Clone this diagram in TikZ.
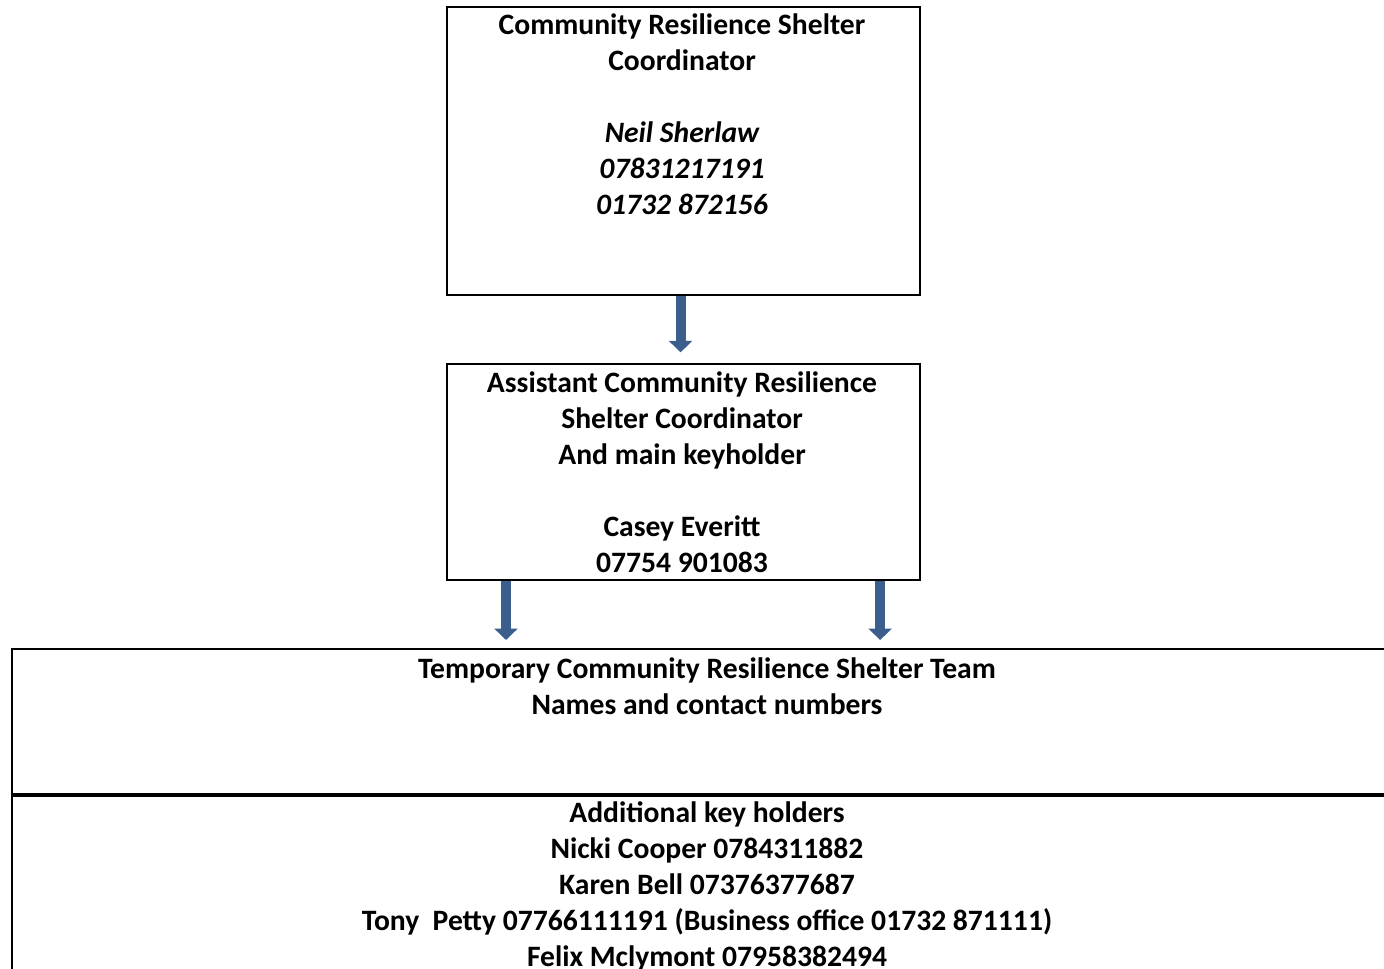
\documentclass[tikz,border=0pt]{standalone}
\usepackage{fontspec}
\setmainfont{Carlito}
\usetikzlibrary{arrows.meta,positioning}
\definecolor{arrowblue}{RGB}{59,94,140}
\tikzset{ % Common styles
	orgbox/.style={draw=black, line width=1.6pt, rectangle, inner sep=0pt},
	boxtext/.style={align=center, inner sep=0pt, font=\fontsize{22.2}{27}\selectfont\bfseries},
	flow/.style={draw=arrowblue, line width=7.5pt, -{Triangle[width=17pt,length=8.5pt]}}
}
\begin{document}
\begin{tikzpicture}[x=0.75pt, y=-0.75pt]
			\useasboundingbox (0,0) rectangle (1384,969);
			\clip (0,0) rectangle (1384,969);
			% Boxes
			\node [orgbox, minimum width=354.75pt, minimum height=216pt, anchor=north west] (coord) at (446,6) {};
			\node [orgbox, minimum width=354.75pt, minimum height=162pt, anchor=north west] (assist) at (446,363) {};
			\node [orgbox, minimum width=1043pt, minimum height=108.75pt, anchor=north west] (team) at (11,648) {};
			\node [orgbox, minimum width=1043pt, minimum height=142pt, anchor=north west] (keys) at (team.south west) {};
			% Texts (base = baseline of the last line)
			\node [boxtext, anchor=base] (coordtxt) at (682,215) {Community Resilience Shelter\\ Coordinator\\ \\
				\itshape Neil Sherlaw\\ \itshape 07831217191\\ \itshape 01732 872156};
			\node [boxtext, anchor=base] (assisttxt) at (682,572) {Assistant Community Resilience\\ Shelter Coordinator\\
				And main keyholder\\ \\ Casey Everitt\\ 07754 901083};
			\node [boxtext, anchor=base] (teamtxt) at (707,714) {Temporary Community Resilience Shelter Team\\
				Names and contact numbers};
			\node [boxtext, anchor=base] (keystxt) at (707,966) {Additional key holders\\ Nicki Cooper 0784311882\\
				Karen Bell 07376377687\\ Tony\ \ Petty 07766111191 (Business office 01732 871111)\\ Felix Mclymont 07958382494};
			% Arrows
			\draw [flow, shorten >=8pt] ([xshift=-2.25pt]coord.south) -- ([xshift=-2.25pt]assist.north);
			\draw [flow, shorten >=6pt] ([xshift=45pt]assist.south west) -- ([xshift=45pt]assist.south west |- team.north);
			\draw [flow, shorten >=6pt] ([xshift=-30.75pt]assist.south east) -- ([xshift=-30.75pt]assist.south east |- team.north);
		\end{tikzpicture}
\end{document}
